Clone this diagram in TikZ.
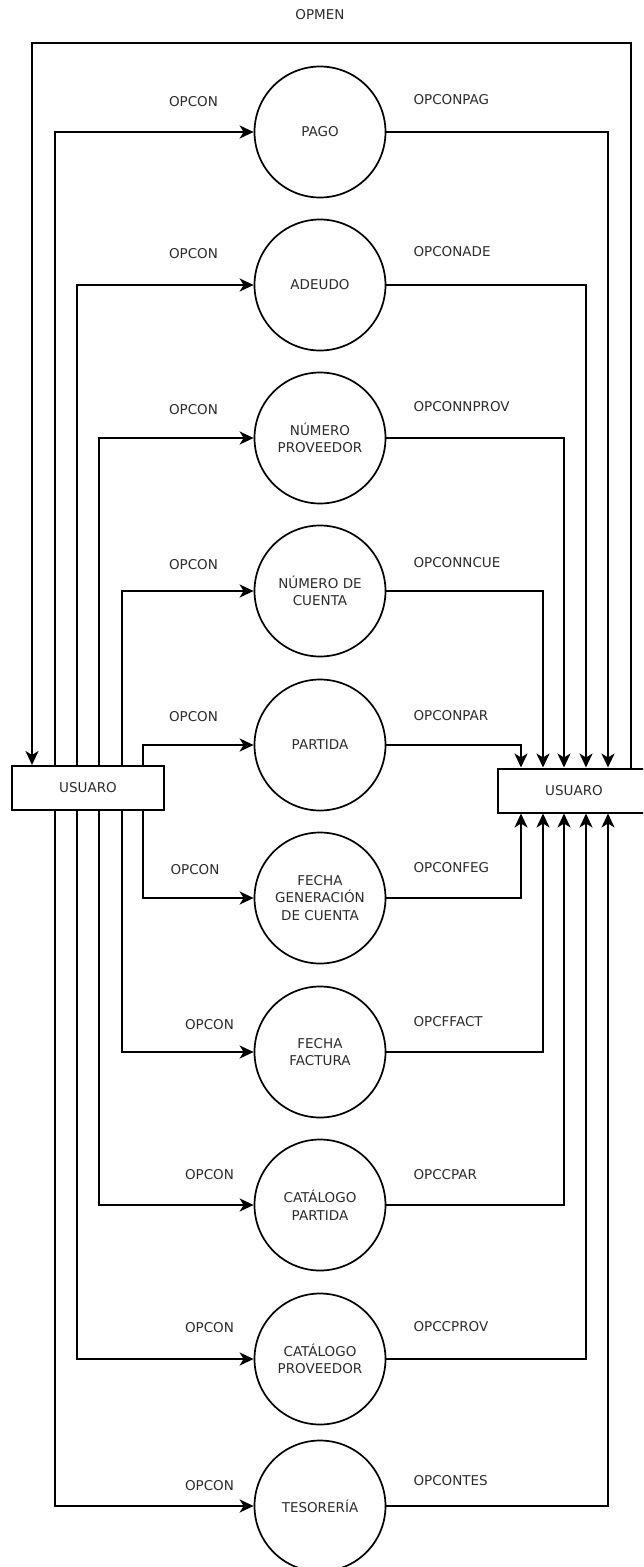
\documentclass[tikz,border=0pt]{standalone}
\usepackage{fontspec}
\setmainfont{DejaVu Sans}
\usetikzlibrary{arrows.meta,calc}
\definecolor{txt}{HTML}{2B2B2B}
\begin{document}
\begin{tikzpicture}[x=1pt,y=-1pt,
  lab/.style={font=\fontsize{13.5}{17.5}\selectfont,text=txt},
  proc/.style={circle,draw,line width=1.7pt,minimum size=131pt,inner sep=0pt,align=center,lab},
  ent/.style={rectangle,draw,line width=2pt,minimum width=152pt,minimum height=44pt,inner sep=0pt,lab},
  flow/.style={line width=2pt,-{Stealth[length=14pt,width=13pt,inset=4pt]}}]
\useasboundingbox (0,0) rectangle (643,1567);
\clip (0,0) rectangle (643,1567);

% lanes on both sides
\coordinate (L1) at (54.5,0);
\coordinate (L2) at (77,0);
\coordinate (L3) at (99,0);
\coordinate (L4) at (121.5,0);
\coordinate (L5) at (143,0);
\coordinate (R1) at (521,0);
\coordinate (R2) at (543,0);
\coordinate (R3) at (564,0);
\coordinate (R4) at (586,0);
\coordinate (R5) at (608,0);
\coordinate (R6) at (630.5,0);
\coordinate (T) at (32,42.7);

% entities
\node[ent] (lbox) at (88,788) {USUARO};
\node[ent] (rbox) at (574,790.5) {USUARO};

% processes
\node[proc] (pago)    at (320,132)  {PAGO};
\node[proc] (adeudo)  at (320,285)  {ADEUDO};
\node[proc] (nprov)   at (320,438)  {NÚMERO\\PROVEEDOR};
\node[proc] (ncue)    at (320,591)  {NÚMERO DE\\CUENTA};
\node[proc] (partida) at (320,745)  {PARTIDA};
\node[proc] (fgen)    at (320,898)  {FECHA\\GENERACIÓN\\DE CUENTA};
\node[proc] (ffact)   at (320,1052) {FECHA\\FACTURA};
\node[proc] (cpart)   at (320,1205) {CATÁLOGO\\PARTIDA};
\node[proc] (cprov)   at (320,1359) {CATÁLOGO\\PROVEEDOR};
\node[proc] (teso)    at (320,1506) {TESORERÍA};

% queries from the left user
\draw[flow] (lbox.north -| L1) |- (pago);
\draw[flow] (lbox.north -| L2) |- (adeudo);
\draw[flow] (lbox.north -| L3) |- (nprov);
\draw[flow] (lbox.north -| L4) |- (ncue);
\draw[flow] (lbox.north -| L5) |- (partida);
\draw[flow] (lbox.south -| L5) |- (fgen);
\draw[flow] (lbox.south -| L4) |- (ffact);
\draw[flow] (lbox.south -| L3) |- (cpart);
\draw[flow] (lbox.south -| L2) |- (cprov);
\draw[flow] (lbox.south -| L1) |- (teso);

% answers to the right user
\draw[flow] (pago)    -| (rbox.north -| R5);
\draw[flow] (adeudo)  -| (rbox.north -| R4);
\draw[flow] (nprov)   -| (rbox.north -| R3);
\draw[flow] (ncue)    -| (rbox.north -| R2);
\draw[flow] (partida) -| (rbox.north -| R1);
\draw[flow] (fgen)    -| (rbox.south -| R1);
\draw[flow] (ffact)   -| (rbox.south -| R2);
\draw[flow] (cpart)   -| (rbox.south -| R3);
\draw[flow] (cprov)   -| (rbox.south -| R4);
\draw[flow] (teso)    -| (rbox.south -| R5);

% menu loop over the top
\draw[flow] (rbox.north -| R6) |- (T) -- (lbox.north -| T);
\node[lab] (opmen) at (320,15) {OPMEN};

% flow labels
\node[lab,anchor=west] (q1)  at (165.5,102)  {OPCON};
\node[lab,anchor=west] (q2)  at (165.5,254)  {OPCON};
\node[lab,anchor=west] (q3)  at (165.5,410)  {OPCON};
\node[lab,anchor=west] (q4)  at (165.5,565)  {OPCON};
\node[lab,anchor=west] (q5)  at (165.5,717)  {OPCON};
\node[lab,anchor=west] (q6)  at (167,870)    {OPCON};
\node[lab,anchor=west] (q7)  at (181.5,1025) {OPCON};
\node[lab,anchor=west] (q8)  at (181.5,1175) {OPCON};
\node[lab,anchor=west] (q9)  at (181.5,1328) {OPCON};
\node[lab,anchor=west] (q10) at (181.5,1486) {OPCON};

\node[lab,anchor=west] (a1)  at (410,100)  {OPCONPAG};
\node[lab,anchor=west] (a2)  at (410,252)  {OPCONADE};
\node[lab,anchor=west] (a3)  at (410,407)  {OPCONNPROV};
\node[lab,anchor=west] (a4)  at (410,563)  {OPCONNCUE};
\node[lab,anchor=west] (a5)  at (410,716)  {OPCONPAR};
\node[lab,anchor=west] (a6)  at (410,868)  {OPCONFEG};
\node[lab,anchor=west] (a7)  at (410,1022) {OPCFFACT};
\node[lab,anchor=west] (a8)  at (410,1175) {OPCCPAR};
\node[lab,anchor=west] (a9)  at (410,1327) {OPCCPROV};
\node[lab,anchor=west] (a10) at (410,1481) {OPCONTES};
\end{tikzpicture}
\end{document}
